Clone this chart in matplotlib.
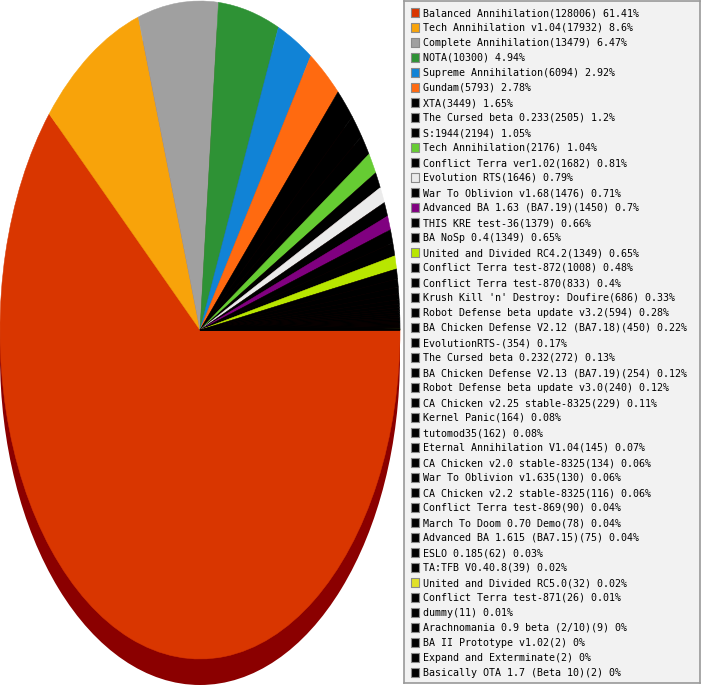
import matplotlib
matplotlib.use("Agg")
import matplotlib.pyplot as plt
from matplotlib.patches import Ellipse

names = [
    "Balanced Annihilation", "Tech Annihilation v1.04", "Complete Annihilation", "NOTA",
    "Supreme Annihilation", "Gundam", "XTA", "The Cursed beta 0.233", "S:1944",
    "Tech Annihilation", "Conflict Terra ver1.02", "Evolution RTS", "War To Oblivion v1.68",
    "Advanced BA 1.63 (BA7.19)", "THIS KRE test-36", "BA NoSp 0.4", "United and Divided RC4.2",
    "Conflict Terra test-872", "Conflict Terra test-870", "Krush Kill 'n' Destroy: Doufire",
    "Robot Defense beta update v3.2", "BA Chicken Defense V2.12 (BA7.18)", "EvolutionRTS-",
    "The Cursed beta 0.232", "BA Chicken Defense V2.13 (BA7.19)", "Robot Defense beta update v3.0",
    "CA Chicken v2.25 stable-8325", "Kernel Panic", "tutomod35", "Eternal Annihilation V1.04",
    "CA Chicken v2.0 stable-8325", "War To Oblivion v1.635", "CA Chicken v2.2 stable-8325",
    "Conflict Terra test-869", "March To Doom 0.70 Demo", "Advanced BA 1.615 (BA7.15)",
    "ESLO 0.185", "TA:TFB V0.40.8", "United and Divided RC5.0", "Conflict Terra test-871",
    "dummy", "Arachnomania 0.9 beta (2/10)", "BA II Prototype v1.02", "Expand and Exterminate",
    "Basically OTA 1.7 (Beta 10)",
]
counts = [
    128006, 17932, 13479, 10300, 6094, 5793, 3449, 2505, 2194, 2176, 1682, 1646, 1476,
    1450, 1379, 1349, 1349, 1008, 833, 686, 594, 450, 354, 272, 254, 240, 229, 164, 162,
    145, 134, 130, 116, 90, 78, 75, 62, 39, 32, 26, 11, 9, 2, 2, 2,
]
percents = [
    "61.41", "8.6", "6.47", "4.94", "2.92", "2.78", "1.65", "1.2", "1.05", "1.04", "0.81",
    "0.79", "0.71", "0.7", "0.66", "0.65", "0.65", "0.48", "0.4", "0.33", "0.28", "0.22",
    "0.17", "0.13", "0.12", "0.12", "0.11", "0.08", "0.08", "0.07", "0.06", "0.06", "0.06",
    "0.04", "0.04", "0.04", "0.03", "0.02", "0.02", "0.01", "0.01", "0", "0", "0", "0",
]
special_colors = {
    0: "#d93600", 1: "#f8a30a", 2: "#a0a0a0", 3: "#2e9235", 4: "#1183d6", 5: "#ff6a10",
    9: "#66cc33", 11: "#ebebeb", 13: "#800080", 16: "#b8e600", 38: "#e0e028",
}
colors = [special_colors.get(i, "#000000") for i in range(len(counts))]
labels = [f"{n}({c}) {p}%" for n, c, p in zip(names, counts, percents)]

W, H = 701, 685
fig = plt.figure(figsize=(W / 100, H / 100), dpi=100)

# Pie (flattened, 3D-like with dark shadow)
pie_left, pie_top, pie_w, pie_h = 0, 1, 400, 658
depth = 26
ax = fig.add_axes([pie_left / W, (H - pie_top - pie_h) / H, pie_w / W, pie_h / H])
wedges, _ = ax.pie(counts, colors=colors, startangle=0, counterclock=False,
                   radius=1.0, wedgeprops=dict(linewidth=0.35, antialiased=True))
for w, c in zip(wedges, colors):
    w.set_edgecolor(c)
    w.set_clip_on(False)
    w.set_zorder(2)
shadow = Ellipse((0, -depth * 2.0 / pie_h), 2, 2, facecolor="#8b0000",
                 edgecolor="none", zorder=1, clip_on=False)
ax.add_patch(shadow)
ax.set_aspect("auto")
ax.set_xlim(-1, 1)
ax.set_ylim(-1, 1)
ax.axis("off")

# Legend box
lx0, lx1, ly0, ly1 = 404, 700, 1, 683
lax = fig.add_axes([lx0 / W, (H - ly1) / H, (lx1 - lx0) / W, (ly1 - ly0) / H])
lax.set_xlim(lx0, lx1)
lax.set_ylim(ly1, ly0)
lax.set_facecolor("#f2f2f2")
for s in lax.spines.values():
    s.set_color("#999999")
    s.set_linewidth(1.2)
lax.set_xticks([])
lax.set_yticks([])
row_y = [12.5 + 15.0 * i for i in range(len(labels))]
lax.scatter([415] * len(labels), row_y, marker="s", s=40, c=colors,
            edgecolors="#8a8a8a", linewidths=0.8, zorder=3)
for y, t in zip(row_y, labels):
    lax.text(423, y + 0.5, t, fontsize=7.2, family="DejaVu Sans Mono",
             va="center", ha="left", color="#000000")

fig.savefig("out.png", dpi=100)
